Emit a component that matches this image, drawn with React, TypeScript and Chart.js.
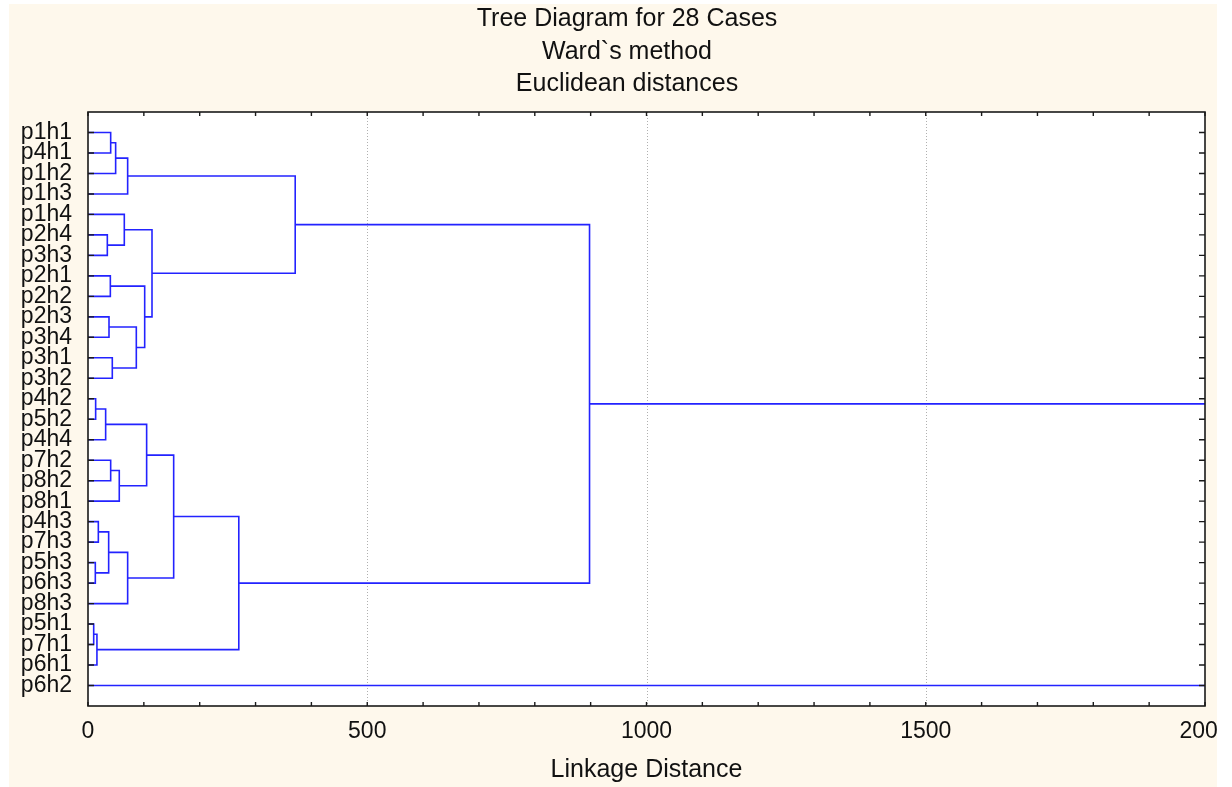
import { useEffect, useRef } from "react";
import { Chart, registerables } from "chart.js";

Chart.register(...registerables);

const titleLines = ["Tree Diagram for 28 Cases", "Ward`s method", "Euclidean distances"];
const xAxisTitle = "Linkage Distance";

const leafLabels = [
  "p1h1", "p4h1", "p1h2", "p1h3", "p1h4", "p2h4", "p3h3", "p2h1", "p2h2", "p2h3",
  "p3h4", "p3h1", "p3h2", "p4h2", "p5h2", "p4h4", "p7h2", "p8h2", "p8h1", "p4h3",
  "p7h3", "p5h3", "p6h3", "p8h3", "p5h1", "p7h1", "p6h1", "p6h2",
];

// merges: node index 28 + i joins mergeLeft[i] and mergeRight[i] at mergeHeight[i]
const mergeLeft = [24, 28, 21, 13, 19, 31, 5, 32, 9, 7, 0, 16, 11, 38, 39, 4, 41, 35, 36, 37, 33, 43, 48, 50, 44, 52, 53];
const mergeRight = [25, 26, 22, 14, 20, 15, 6, 30, 10, 8, 1, 17, 12, 2, 18, 34, 3, 23, 40, 46, 42, 47, 45, 29, 49, 51, 27];
const mergeHeight = [10.2, 16, 13.1, 13.7, 18.5, 31.6, 34.6, 37, 37.6, 40, 40.6, 40.6, 43.5, 49.5, 56, 65, 71, 71, 86.5, 101.5, 105, 114.6, 153.4, 270, 371, 898, 2200];

const xTickValues = [0, 500, 1000, 1500, 2000];
const xGridValues = [500, 1000, 1500];
const xMinorStep = 100;

const FONT = "'Liberation Sans', Arial, Helvetica, sans-serif";
const LINE_COLOR = "#2323ff";
const TEXT_COLOR = "#111111";

function buildDatasets() {
  const n = leafLabels.length;
  const pos: number[] = leafLabels.map((_, i) => i + 1);
  const hgt: number[] = leafLabels.map(() => 0);
  const datasets: any[] = [];
  mergeLeft.forEach((a, i) => {
    const b = mergeRight[i];
    const h = mergeHeight[i];
    datasets.push({
      data: [
        { x: hgt[a], y: pos[a] },
        { x: h, y: pos[a] },
        { x: h, y: pos[b] },
        { x: hgt[b], y: pos[b] },
      ],
      showLine: true,
      borderColor: LINE_COLOR,
      borderWidth: 1.6,
      pointRadius: 0,
      fill: false,
      tension: 0,
    });
    pos[n + i] = (pos[a] + pos[b]) / 2;
    hgt[n + i] = h;
  });
  return datasets;
}

const decorPlugin = {
  id: "decor",
  beforeDraw(chart: any) {
    const { ctx, width, height, chartArea } = chart;
    ctx.save();
    ctx.fillStyle = "#ffffff";
    ctx.fillRect(0, 0, width, height);
    ctx.fillStyle = "#fef8ec";
    ctx.fillRect(9, 4, 1208, height - 4);
    ctx.fillStyle = "#ffffff";
    ctx.fillRect(chartArea.left, chartArea.top, chartArea.right - chartArea.left, chartArea.bottom - chartArea.top);
    // title block
    ctx.fillStyle = TEXT_COLOR;
    ctx.font = `25px ${FONT}`;
    ctx.textAlign = "center";
    ctx.textBaseline = "middle";
    titleLines.forEach((t, i) => {
      ctx.fillText(t, 627, 19.5 + i * 32.5);
    });
    ctx.restore();
  },
  beforeDatasetsDraw(chart: any) {
    const { ctx, chartArea, scales } = chart;
    ctx.save();
    ctx.strokeStyle = "#b0b0b0";
    ctx.lineWidth = 1;
    ctx.setLineDash([1, 2]);
    xGridValues.forEach((v) => {
      const x = Math.round(scales.x.getPixelForValue(v)) + 0.5;
      ctx.beginPath();
      ctx.moveTo(x, chartArea.top);
      ctx.lineTo(x, chartArea.bottom);
      ctx.stroke();
    });
    ctx.restore();
  },
  afterDatasetsDraw(chart: any) {
    const { ctx, chartArea, scales } = chart;
    const { left, right, top, bottom } = chartArea;
    ctx.save();
    ctx.strokeStyle = "#1a1a1a";
    ctx.lineWidth = 1.6;
    ctx.setLineDash([]);
    ctx.strokeRect(left, top, right - left, bottom - top);
    ctx.lineWidth = 1.4;
    ctx.beginPath();
    for (let v = scales.x.min; v <= scales.x.max; v += xMinorStep) {
      const x = scales.x.getPixelForValue(v);
      ctx.moveTo(x, bottom);
      ctx.lineTo(x, bottom - 4);
      ctx.moveTo(x, top);
      ctx.lineTo(x, top + 4);
    }
    leafLabels.forEach((_, i) => {
      const y = scales.y.getPixelForValue(i + 1);
      ctx.moveTo(left, y);
      ctx.lineTo(left + 6, y);
      ctx.moveTo(right, y);
      ctx.lineTo(right - 6, y);
    });
    ctx.stroke();
    ctx.restore();
  },
  afterDraw(chart: any) {
    const { ctx, height } = chart;
    ctx.save();
    ctx.fillStyle = "#ffffff";
    ctx.fillRect(1217, 0, 20, height);
    ctx.restore();
  },
};

export default function App() {
  const canvasRef = useRef<HTMLCanvasElement | null>(null);

  useEffect(() => {
    if (!canvasRef.current) return;
    const chart = new Chart(canvasRef.current, {
      type: "scatter",
      data: { datasets: buildDatasets() },
      options: {
        animation: false,
        responsive: true,
        maintainAspectRatio: false,
        devicePixelRatio: 1,
        layout: { padding: { left: 0, right: 27, top: 112, bottom: 0 } },
        plugins: {
          legend: { display: false },
          tooltip: { enabled: false },
          title: { display: false },
        },
        scales: {
          x: {
            type: "linear",
            min: 0,
            max: 2000,
            afterBuildTicks: (scale: any) => {
              scale.ticks = xTickValues.map((v) => ({ value: v }));
            },
            afterFit: (scale: any) => {
              scale.height = 81;
              scale.paddingLeft = 0;
              scale.paddingRight = 27;
            },
            grid: { display: false, drawTicks: false },
            border: { display: false },
            ticks: {
              autoSkip: false,
              maxRotation: 0,
              padding: 12,
              color: TEXT_COLOR,
              font: { family: FONT, size: 23 },
              callback: (v: any) => String(v),
            },
            title: {
              display: true,
              text: xAxisTitle,
              color: TEXT_COLOR,
              font: { family: FONT, size: 25 },
              padding: { top: 0, bottom: 2 },
            },
          },
          y: {
            type: "linear",
            min: 0,
            max: leafLabels.length + 1,
            reverse: true,
            afterBuildTicks: (scale: any) => {
              scale.ticks = leafLabels.map((_, i) => ({ value: i + 1 }));
            },
            afterFit: (scale: any) => {
              scale.width = 88;
              scale.paddingTop = 0;
              scale.paddingBottom = 0;
            },
            grid: { display: false, drawTicks: false },
            border: { display: false },
            ticks: {
              autoSkip: false,
              padding: 16,
              color: TEXT_COLOR,
              font: { family: FONT, size: 23 },
              callback: (v: any) => leafLabels[Number(v) - 1] ?? "",
            },
          },
        },
      },
      plugins: [decorPlugin],
    } as any);
    return () => chart.destroy();
  }, []);

  return (
    <div style={{ position: "absolute", left: 0, top: 0, width: 1232, height: 787 }}>
      <canvas ref={canvasRef} />
    </div>
  );
}
